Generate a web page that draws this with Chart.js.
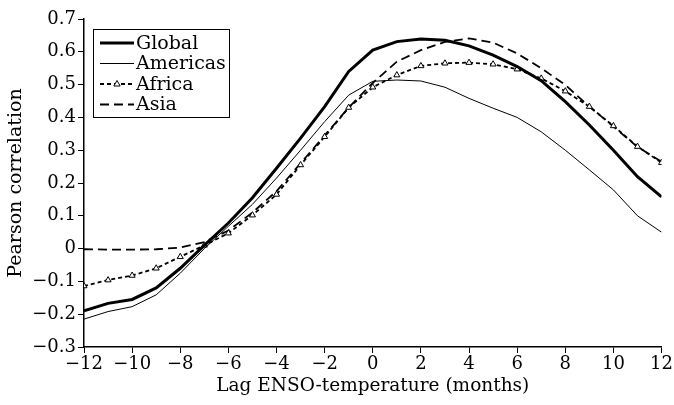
<!DOCTYPE html>
<html>
<head>
<meta charset="utf-8">
<script src="https://cdn.jsdelivr.net/npm/chart.js@4"></script>
<style>
    html, body { margin: 0; padding: 0; background: #fff; }
    #wrap { width: 674px; height: 405px; }
</style>
</head>
<body>
<div id="wrap"><canvas id="chart" width="674" height="405"></canvas></div>
<script>
// Lag in months
const lags = [-12, -11, -10, -9, -8, -7, -6, -5, -4, -3, -2, -1, 0, 1, 2, 3, 4, 5, 6, 7, 8, 9, 10, 11, 12];

// Pearson correlation per region
const globalVals   = [-0.19, -0.167, -0.155, -0.12, -0.06, 0.01, 0.078, 0.155, 0.245, 0.337, 0.433, 0.54, 0.605, 0.631, 0.639, 0.635, 0.618, 0.59, 0.555, 0.512, 0.448, 0.377, 0.30, 0.219, 0.158];
const americasVals = [-0.215, -0.192, -0.177, -0.141, -0.075, 0.0, 0.068, 0.135, 0.215, 0.30, 0.387, 0.468, 0.51, 0.514, 0.511, 0.492, 0.458, 0.428, 0.40, 0.356, 0.30, 0.24, 0.179, 0.10, 0.05];
const africaVals   = [-0.114, -0.096, -0.082, -0.06, -0.025, 0.01, 0.047, 0.102, 0.165, 0.255, 0.341, 0.43, 0.492, 0.529, 0.557, 0.565, 0.567, 0.562, 0.547, 0.519, 0.48, 0.433, 0.374, 0.311, 0.262];
const asiaVals     = [-0.002, -0.003, -0.003, -0.002, 0.003, 0.02, 0.055, 0.11, 0.175, 0.26, 0.345, 0.43, 0.505, 0.57, 0.605, 0.63, 0.641, 0.628, 0.595, 0.55, 0.499, 0.433, 0.372, 0.31, 0.265];

const FONT = '"DejaVu Serif", "Liberation Serif", serif';

function toPoints(vals) {
    return vals.map((v, i) => ({ x: lags[i], y: v }));
}

function minus(str) {
    return String(str).replace('-', '\u2212');
}

// Boxed legend in the top-left corner
const boxLegend = {
    id: 'boxLegend',
    afterDraw(chart) {
        const ctx = chart.ctx;
        const x0 = 93, y0 = 29, w = 136, h = 88;
        ctx.save();
        ctx.fillStyle = '#fff';
        ctx.fillRect(x0, y0, w, h);
        ctx.strokeStyle = '#000';
        ctx.lineWidth = 1;
        ctx.setLineDash([]);
        ctx.strokeRect(x0 + 0.5, y0 + 0.5, w, h);
        ctx.font = '19px ' + FONT;
        ctx.textBaseline = 'middle';
        chart.data.datasets.forEach((ds, i) => {
            const yy = y0 + 14 + i * 20.5;
            ctx.strokeStyle = '#000';
            ctx.lineWidth = ds.borderWidth;
            ctx.setLineDash(ds.borderDash || []);
            ctx.beginPath();
            ctx.moveTo(x0 + 7, yy);
            ctx.lineTo(x0 + 41, yy);
            ctx.stroke();
            ctx.setLineDash([]);
            if (ds.pointStyle === 'triangle') {
                const cx = x0 + 24;
                ctx.lineWidth = 1;
                ctx.fillStyle = '#fff';
                ctx.beginPath();
                ctx.moveTo(cx, yy - 3.5);
                ctx.lineTo(cx + 3.2, yy + 2);
                ctx.lineTo(cx - 3.2, yy + 2);
                ctx.closePath();
                ctx.fill();
                ctx.stroke();
            }
            ctx.fillStyle = '#000';
            ctx.fillText(ds.label, x0 + 43, yy + 1);
        });
        ctx.restore();
    }
};

new Chart(document.getElementById('chart'), {
    type: 'line',
    data: {
        datasets: [
            {
                label: 'Global',
                data: toPoints(globalVals),
                borderColor: '#000',
                borderWidth: 3,
                pointRadius: 0,
                tension: 0
            },
            {
                label: 'Americas',
                data: toPoints(americasVals),
                borderColor: '#000',
                borderWidth: 1,
                pointRadius: 0,
                tension: 0
            },
            {
                label: 'Africa',
                data: toPoints(africaVals),
                borderColor: '#000',
                borderWidth: 1.8,
                borderDash: [4, 3],
                pointStyle: 'triangle',
                pointRadius: 3.5,
                pointBackgroundColor: '#fff',
                pointBorderColor: '#000',
                pointBorderWidth: 1,
                tension: 0
            },
            {
                label: 'Asia',
                data: toPoints(asiaVals),
                borderColor: '#000',
                borderWidth: 1.8,
                borderDash: [9, 5],
                pointRadius: 0,
                tension: 0
            }
        ]
    },
    options: {
        responsive: false,
        animation: false,
        layout: {
            padding: { top: 19, right: 10, left: 0, bottom: 0 }
        },
        plugins: {
            legend: { display: false },
            tooltip: { enabled: false }
        },
        scales: {
            x: {
                type: 'linear',
                min: -12,
                max: 12,
                afterFit: (scale) => { scale.height = 58; },
                border: { display: true, color: '#000', width: 1.5 },
                grid: {
                    display: true,
                    drawOnChartArea: false,
                    drawTicks: true,
                    tickLength: 6,
                    color: '#000',
                    lineWidth: 1
                },
                ticks: {
                    stepSize: 2,
                    color: '#000',
                    padding: 1,
                    maxRotation: 0,
                    font: { family: FONT, size: 18 },
                    callback: (v) => minus(v)
                },
                title: {
                    display: true,
                    text: 'Lag ENSO-temperature (months)',
                    color: '#000',
                    padding: { top: 0, bottom: 8 },
                    font: { family: FONT, size: 18.5 }
                }
            },
            y: {
                min: -0.3,
                max: 0.7,
                afterFit: (scale) => { scale.width = 84; },
                border: { display: true, color: '#000', width: 1.5 },
                grid: {
                    display: true,
                    drawOnChartArea: false,
                    drawTicks: true,
                    tickLength: 6,
                    color: '#000',
                    lineWidth: 1
                },
                ticks: {
                    stepSize: 0.1,
                    color: '#000',
                    padding: 2,
                    font: { family: FONT, size: 18 },
                    callback: (v) => {
                        const r = Math.round(v * 10) / 10;
                        return r === 0 ? '0' : minus(r.toFixed(1));
                    }
                },
                title: {
                    display: true,
                    text: 'Pearson correlation',
                    color: '#000',
                    padding: { top: 5, bottom: 0 },
                    font: { family: FONT, size: 19 }
                }
            }
        }
    },
    plugins: [boxLegend]
});
</script>
</body>
</html>
